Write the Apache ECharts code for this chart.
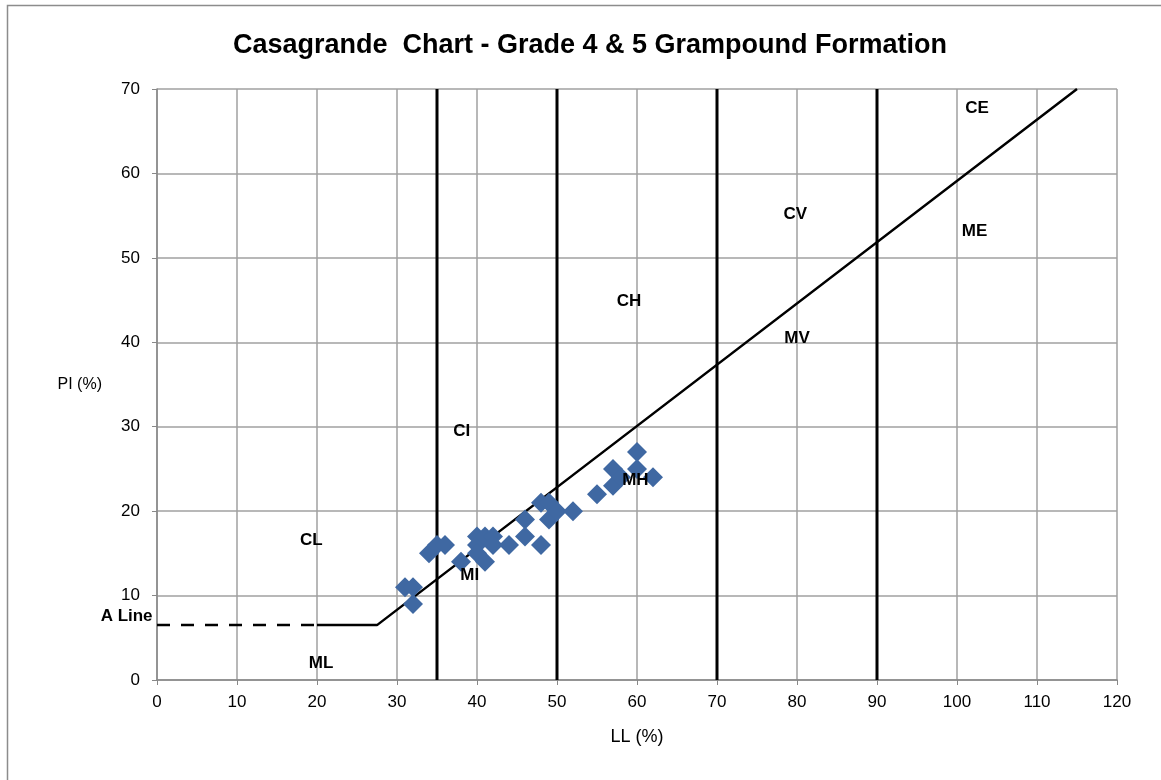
<!DOCTYPE html>
<html><head><meta charset="utf-8">
<script src="https://cdn.jsdelivr.net/npm/echarts@6/dist/echarts.min.js"></script>
<style>html,body{margin:0;padding:0;background:#fff}#c{width:1161px;height:780px}</style>
</head><body><div id="c"></div>
<script>
// Sample points: [LL, PI]
const samplesLL = [31, 32, 32, 34, 35, 36, 38, 40, 40, 40, 41, 41, 42, 42, 44, 46, 46, 48, 48, 49, 49, 50, 52, 55, 57, 57, 58, 60, 60, 62];
const samplesPI = [11, 11, 9, 15, 16, 16, 14, 17, 16, 15, 14, 17, 17, 16, 16, 19, 17, 16, 21, 21, 19, 20, 20, 22, 23, 25, 24, 27, 25, 24];
// A-line
const aLineDashedLL = [0, 20];
const aLineDashedPI = [6.5, 6.5];
const aLineSolidLL = [20, 27.5, 115];
const aLineSolidPI = [6.5, 6.5, 70];
// Plasticity boundaries (LL)
const boundaryLL = [35, 50, 70, 90];
// Zone labels
const zoneNames = ['CL', 'ML', 'CI', 'MI', 'CH', 'MH', 'CV', 'MV', 'CE', 'ME', 'A Line'];
const zoneLL = [19.3, 20.5, 38.1, 39.1, 59, 59.8, 79.8, 80, 102.5, 102.2, -3.8];
const zonePI = [16.5, 2, 29.4, 12.4, 44.8, 23.6, 55.1, 40.5, 67.7, 53.1, 7.6];
// Axes
const xMin = 0, xMax = 120, xStep = 10;
const yMin = 0, yMax = 70, yStep = 10;

const zip = (a, b) => a.map((v, i) => [v, b[i]]);
const font = 'Liberation Sans, Arial, sans-serif';

const series = [];
boundaryLL.forEach(ll => {
  series.push({type: 'line', data: [[ll, yMin], [ll, yMax]], symbol: 'none', silent: true,
    lineStyle: {color: '#000', width: 3}, z: 3});
});
series.push({type: 'line', data: zip(aLineDashedLL, aLineDashedPI), symbol: 'none',
  lineStyle: {color: '#000', width: 2.5, type: [13, 11]}, z: 3});
series.push({type: 'line', data: zip(aLineSolidLL, aLineSolidPI), symbol: 'none',
  lineStyle: {color: '#000', width: 2.5}, z: 3});
series.push({type: 'scatter', data: zip(samplesLL, samplesPI), symbol: 'diamond', symbolSize: 20,
  itemStyle: {color: '#3f68a2', opacity: 1}, z: 4});
series.push({type: 'scatter', data: zoneNames.map((n, i) => ({name: n, value: [zoneLL[i], zonePI[i]]})),
  symbolSize: 0, clip: false, z: 5, itemStyle: {opacity: 1},
  label: {show: true, position: 'inside', formatter: p => p.name, color: '#000', textBorderWidth: 0,
    fontFamily: font, fontWeight: 'bold', fontSize: 17}});

const chart = echarts.init(document.getElementById('c'), null, {renderer: 'canvas'});
chart.setOption({
  animation: false,
  backgroundColor: '#fff',
  title: {text: 'Casagrande  Chart - Grade 4 & 5 Grampound Formation', left: 585, top: 27, textAlign: 'center',
    textStyle: {fontFamily: font, fontWeight: 'bold', fontSize: 27, color: '#000'}},
  graphic: [{type: 'rect', shape: {x: 7.5, y: 5.5, width: 1200, height: 900},
    style: {fill: 'none', stroke: '#8c8c8c', lineWidth: 1.5}, silent: true, z: -1}],
  grid: {left: 157, right: 44, top: 89, bottom: 100, containLabel: false},
  xAxis: {type: 'value', min: xMin, max: xMax, interval: xStep, name: 'LL (%)',
    nameLocation: 'middle', nameGap: 48,
    nameTextStyle: {fontFamily: font, fontSize: 18, color: '#000'},
    axisLine: {show: true, lineStyle: {color: '#888', width: 1.5}},
    axisTick: {show: true, length: 5, lineStyle: {color: '#888'}},
    axisLabel: {fontFamily: font, fontSize: 17, color: '#000', margin: 14},
    splitLine: {show: true, lineStyle: {color: '#a0a0a0', width: 1.5}}},
  yAxis: {type: 'value', min: yMin, max: yMax, interval: yStep, name: 'PI (%)',
    nameLocation: 'middle', nameGap: 55, nameRotate: 0,
    nameTextStyle: {fontFamily: font, fontSize: 16, color: '#000'},
    axisLine: {show: true, lineStyle: {color: '#888', width: 1.5}},
    axisTick: {show: true, length: 5, lineStyle: {color: '#888'}},
    axisLabel: {fontFamily: font, fontSize: 17, color: '#000', margin: 17},
    splitLine: {show: true, lineStyle: {color: '#a0a0a0', width: 1.5}}},
  series: series
});
</script></body></html>
